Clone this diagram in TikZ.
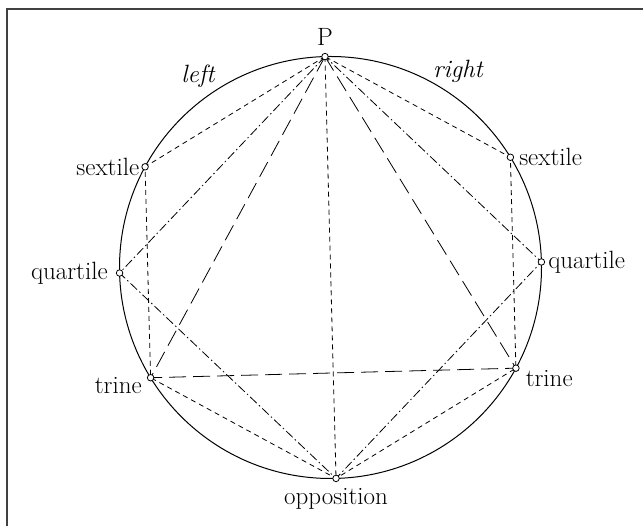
\documentclass[tikz,border=0pt]{standalone}
\usepackage{fontspec}
\begin{document}
\begin{tikzpicture}[x=1pt,y=1pt,
  pt/.style={circle,draw,fill=white,line width=0.8pt,inner sep=0pt,minimum size=6.5pt},
  lab/.style={font=\fontsize{25}{29}\selectfont,inner sep=0pt},
  itlab/.style={font=\fontsize{25}{29}\selectfont\itshape,inner sep=0pt},
  shortdash/.style={line width=0.8pt,dash pattern=on 5pt off 4pt},
  longdash/.style={line width=0.8pt,dash pattern=on 17pt off 7pt},
  dashdot/.style={line width=0.8pt,dash pattern=on 9pt off 3pt on 1.5pt off 3pt}]
\useasboundingbox (0,0) rectangle (643,526);
\draw[line width=1.6pt,black!75] (7,0) -- (7,517) -- (643,517);
\coordinate (O) at (330.5,258.5);
\draw[line width=1pt] (O) circle (211pt);
% aspect lines
\coordinate (cP) at ([shift={(91.5:211pt)}]O);
\coordinate (cSL) at ([shift={(151.5:211pt)}]O);
\coordinate (cQL) at ([shift={(181.5:211pt)}]O);
\coordinate (cTL) at ([shift={(211.5:211pt)}]O);
\coordinate (cOp) at ([shift={(271.5:211pt)}]O);
\coordinate (cTR) at ([shift={(331.5:211pt)}]O);
\coordinate (cQR) at ([shift={(1.5:211pt)}]O);
\coordinate (cSR) at ([shift={(31.5:211pt)}]O);
% hexagon (short dashes)
\draw[shortdash] (cP) -- (cSL) -- (cTL) -- (cOp) -- (cTR) -- (cSR) -- (cP);
\draw[shortdash] (cP) -- (cOp);
% square (dash-dot)
\draw[dashdot] (cP) -- (cQL) -- (cOp) -- (cQR) -- (cP);
% triangle (long dashes)
\draw[longdash] (cP) -- (cTL) -- (cTR) -- (cP);
% points
\node[pt] (P) at (cP) {};
\node[pt] (SL) at (cSL) {};
\node[pt] (QL) at (cQL) {};
\node[pt] (TL) at (cTL) {};
\node[pt] (Op) at (cOp) {};
\node[pt] (TR) at (cTR) {};
\node[pt] (QR) at (cQR) {};
\node[pt] (SR) at (cSR) {};
% labels
\node[lab,anchor=south] (Plab) at ([yshift=7pt]P.north) {P};
\node[lab,anchor=east] (SLlab) at ([xshift=-2pt]SL.west) {sextile};
\node[lab,anchor=east] (QLlab) at ([xshift=-8pt]QL.west) {quartile};
\node[lab,anchor=north east] (TLlab) at ([xshift=-5pt,yshift=1pt]TL.west) {trine};
\node[lab,anchor=west] (SRlab) at ([xshift=5pt]SR.east) {sextile};
\node[lab,anchor=west] (QRlab) at ([xshift=3pt]QR.east) {quartile};
\node[lab,anchor=north west] (TRlab) at ([xshift=6pt,yshift=-2pt]TR.east) {trine};
\node[lab,anchor=north] (Oplab) at ([yshift=-6pt]Op.south) {opposition};
\node[itlab] (left) at (198,450) {left};
\node[itlab] (right) at (458,455) {right};
\end{tikzpicture}
\end{document}
